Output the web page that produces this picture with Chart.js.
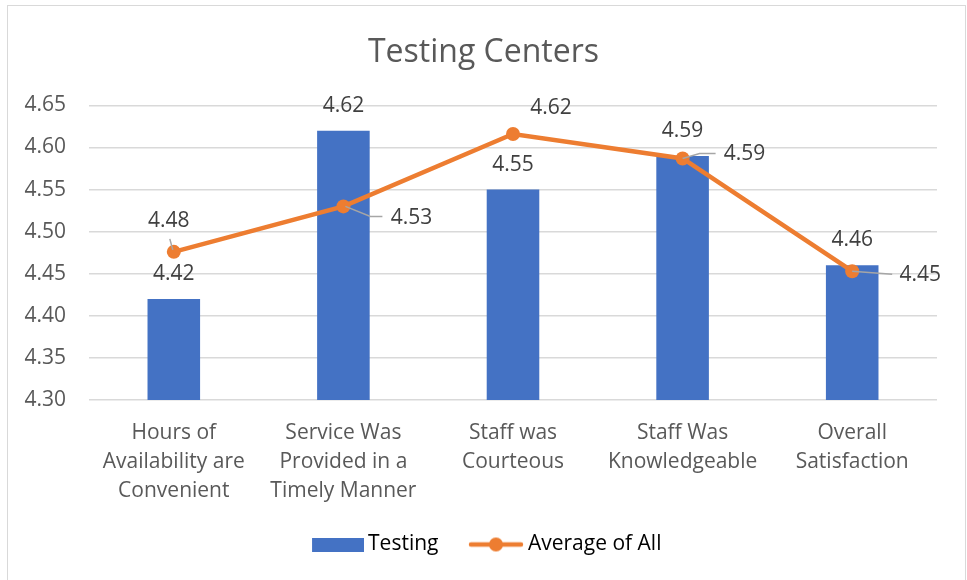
<!DOCTYPE html>
<html>
<head>
<meta charset="utf-8">
<script src="https://cdn.jsdelivr.net/npm/chart.js@4"></script>
<style>
  html, body { margin: 0; padding: 0; background: #fff; }
</style>
</head>
<body>
<canvas id="testingChart" width="967" height="580"></canvas>
<script>
// chart data
var categories = [
    ['Hours of', 'Availability are', 'Convenient'],
    ['Service Was', 'Provided in a', 'Timely Manner'],
    ['Staff was', 'Courteous'],
    ['Staff Was', 'Knowledgeable'],
    ['Overall', 'Satisfaction']
];
var testingValues = [4.42, 4.62, 4.55, 4.59, 4.46];
var averageValues = [4.476, 4.53, 4.616, 4.587, 4.453];
var yTickLabels = ['4.30', '4.35', '4.40', '4.45', '4.50', '4.55', '4.60', '4.65'];

var FONT = "'Open Sans', sans-serif";
var BLUE = '#4472C4';
var ORANGE = '#ED7D31';

// where the "Average of All" labels sit relative to their point (px), plus leader lines
var lineLabelPlacement = [
    { dx: -5, dy: -31, leader: [[-4, -13], [-1, -2]] },
    { dx: 68, dy: 12, leader: [[2, 0], [27, 10], [39, 10]] },
    { dx: 38, dy: -26, leader: null },
    { dx: 62, dy: -4, leader: [[0, 0], [17, -5], [33, -5]] },
    { dx: 68, dy: 4, leader: [[0, 0], [40, 3]] }
];

// legend swatches (drawn flush right inside a 65px wide canvas so the
// gap to the text is small and the gap between items is wider)
var SW = 65;
function makeBarSwatch() {
    var c = document.createElement('canvas');
    c.width = SW; c.height = 14;
    var g = c.getContext('2d');
    g.fillStyle = BLUE;
    g.fillRect(SW - 52, 0, 52, 14);
    return c;
}
function makeLineSwatch() {
    var c = document.createElement('canvas');
    c.width = SW; c.height = 16;
    var g = c.getContext('2d');
    var x0 = SW - 56;
    g.strokeStyle = ORANGE;
    g.lineWidth = 4.5;
    g.lineCap = 'round';
    g.beginPath(); g.moveTo(x0 + 3, 8); g.lineTo(x0 + 53, 8); g.stroke();
    g.fillStyle = ORANGE;
    g.beginPath(); g.arc(x0 + 28, 8, 7, 0, Math.PI * 2); g.fill();
    return c;
}
var swatches = [makeBarSwatch(), makeLineSwatch()];

var frameAndLabels = {
    id: 'frameAndLabels',
    beforeDraw: function(chart) {
        var ctx = chart.ctx;
        ctx.save();
        ctx.fillStyle = '#fff';
        ctx.fillRect(0, 0, chart.width, chart.height);
        ctx.strokeStyle = '#D9D9D9';
        ctx.lineWidth = 1;
        ctx.strokeRect(7.5, 5.5, 958, 600);
        ctx.restore();
    },
    afterDatasetsDraw: function(chart) {
        var ctx = chart.ctx;
        ctx.save();
        ctx.font = '21px ' + FONT;
        ctx.fillStyle = '#404040';
        ctx.textAlign = 'center';
        ctx.textBaseline = 'middle';

        // bar labels
        var barMeta = chart.getDatasetMeta(0);
        barMeta.data.forEach(function(bar, i) {
            ctx.fillText(testingValues[i].toFixed(2), bar.x, bar.y - 25);
        });

        // line labels
        var lineMeta = chart.getDatasetMeta(1);
        lineMeta.data.forEach(function(pt, i) {
            var p = lineLabelPlacement[i];
            if (p.leader) {
                ctx.strokeStyle = '#A6A6A6';
                ctx.lineWidth = 1.5;
                ctx.beginPath();
                p.leader.forEach(function(q, k) {
                    if (k === 0) ctx.moveTo(pt.x + q[0], pt.y + q[1]);
                    else ctx.lineTo(pt.x + q[0], pt.y + q[1]);
                });
                ctx.stroke();
            }
            ctx.fillText(averageValues[i].toFixed(2), pt.x + p.dx, pt.y + p.dy);
        });
        ctx.restore();
    }
};

var ctx = document.getElementById('testingChart').getContext('2d');
var chart = new Chart(ctx, {
    type: 'bar',
    data: {
        labels: categories,
        datasets: [{
            type: 'bar',
            label: 'Testing',
            data: testingValues,
            backgroundColor: BLUE,
            borderWidth: 0,
            categoryPercentage: 1,
            barPercentage: 0.31,
            order: 1
        }, {
            type: 'line',
            label: 'Average of All',
            data: averageValues,
            borderColor: ORANGE,
            backgroundColor: ORANGE,
            borderWidth: 4.5,
            pointRadius: 7,
            pointBackgroundColor: ORANGE,
            pointBorderWidth: 0,
            tension: 0,
            order: 0
        }]
    },
    options: {
        responsive: false,
        animation: false,
        devicePixelRatio: 1,
        layout: {
            padding: { left: 0, right: 0, top: 0, bottom: 15 }
        },
        plugins: {
            title: {
                display: true,
                text: 'Testing Centers',
                color: '#595959',
                font: { family: FONT, size: 32, weight: 'normal' },
                padding: { top: 34, bottom: 33 }
            },
            legend: {
                position: 'bottom',
                labels: {
                    color: '#595959',
                    font: { family: FONT, size: 21 },
                    usePointStyle: true,
                    pointStyleWidth: 52,
                    padding: 27,
                    generateLabels: function(chart) {
                        return chart.data.datasets.map(function(ds, i) {
                            return {
                                text: ds.label,
                                fillStyle: ds.backgroundColor,
                                strokeStyle: ds.backgroundColor,
                                lineWidth: 0,
                                pointStyle: swatches[i],
                                datasetIndex: i,
                                hidden: false
                            };
                        });
                    }
                }
            },
            tooltip: { enabled: false }
        },
        scales: {
            x: {
                grid: { display: false, drawTicks: false },
                border: { display: false },
                ticks: {
                    color: '#595959',
                    font: { family: FONT, size: 21, lineHeight: 1.4 },
                    padding: 18,
                    maxRotation: 0,
                    autoSkip: false
                },
                afterFit: function(scale) { scale.height = 107; }
            },
            y: {
                min: parseFloat(yTickLabels[0]),
                max: parseFloat(yTickLabels[yTickLabels.length - 1]),
                grid: { color: '#D9D9D9', lineWidth: 1.5, drawTicks: false },
                border: { display: false },
                ticks: {
                    stepSize: 0.05,
                    color: '#595959',
                    font: { family: FONT, size: 21 },
                    padding: 23,
                    callback: function(value) { return value.toFixed(2); }
                },
                afterFit: function(scale) { scale.width = 89; }
            },
            // empty right-hand spacer so the title and legend centre on the whole frame
            yRight: {
                position: 'right',
                grid: { display: false, drawTicks: false },
                border: { display: false },
                ticks: { display: false },
                afterFit: function(scale) { scale.width = 30; }
            }
        }
    },
    plugins: [frameAndLabels]
});
</script>
</body>
</html>
